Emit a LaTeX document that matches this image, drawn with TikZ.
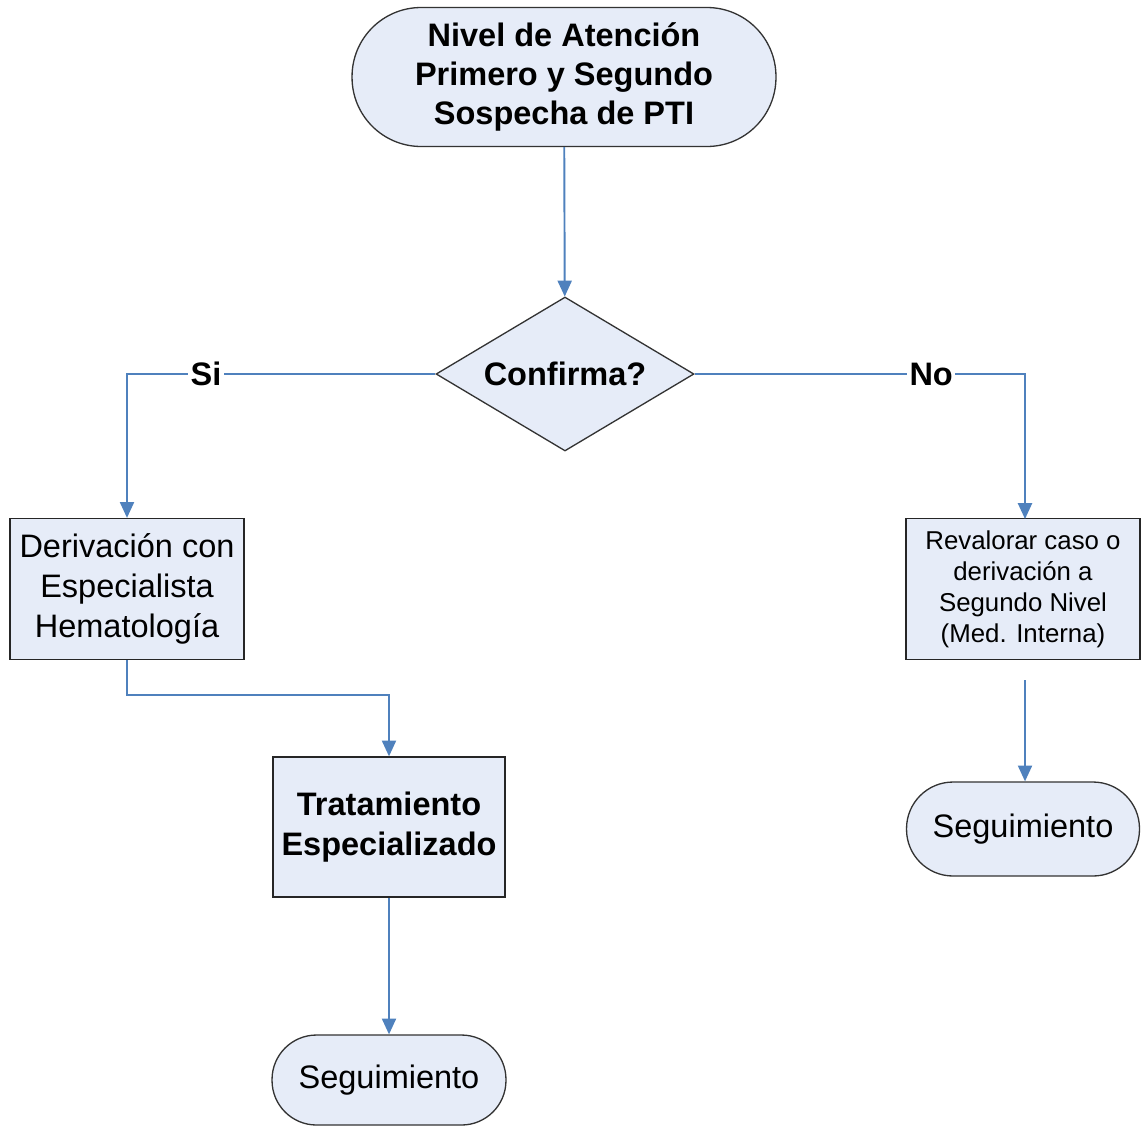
\documentclass[tikz,border=0pt]{standalone}
\usepackage{fontspec}
\setmainfont{Liberation Sans}
\usetikzlibrary{shapes.geometric,arrows.meta}

\definecolor{boxfill}{RGB}{230,236,248}
\definecolor{linkblue}{RGB}{79,129,189}

\tikzset{
  terminal/.style={draw=black!80, fill=boxfill, line width=0.75pt, align=center, inner sep=0pt},
  procbox/.style={draw=black!85, fill=boxfill, line width=0.75pt, align=center, inner sep=0pt},
  decision/.style={diamond, draw=black!80, fill=boxfill, line width=0.75pt, inner sep=0pt,
    minimum width=5.16cm, minimum height=3.08cm, aspect=1.675},
  link/.style={draw=linkblue, line width=1.1pt, -{Triangle[width=8pt,length=9pt]}},
  answer/.style={fill=white, inner sep=1.5pt, font=\fontsize{18.5}{22}\selectfont\bfseries}
}

\begin{document}
\begin{tikzpicture}[x=0.02cm, y=-0.02cm]
  \useasboundingbox (0,0) rectangle (1141,1126);

  % start
  \node[terminal, minimum width=8.48cm, minimum height=2.78cm, rounded corners=1.38cm,
    font=\fontsize{18.5}{22}\selectfont\bfseries] (inicio) at (564,77)
    {Nivel de Atención\\Primero y Segundo\\Sospecha de PTI};

  % question
  \node[decision, font=\fontsize{18.5}{22}\selectfont\bfseries] (conf) at (565,374) {Confirma?};

  % left branch
  \node[procbox, minimum width=4.68cm, minimum height=2.82cm,
    font=\fontsize{18.5}{22.8}\selectfont] (deriv) at (127,589)
    {Derivación con\\Especialista\\Hematología};
  \node[procbox, minimum width=4.64cm, minimum height=2.8cm,
    font=\fontsize{18.5}{22.8}\selectfont\bfseries] (trat) at (389,827)
    {Tratamiento\\Especializado};
  \node[terminal, minimum width=4.68cm, minimum height=1.8cm, rounded corners=0.89cm,
    font=\fontsize{18.5}{22}\selectfont] (seguiA) at (389,1080) {Seguimiento};

  % right branch
  \node[procbox, minimum width=4.68cm, minimum height=2.82cm,
    font=\fontsize{14.7}{17.6}\selectfont] (reval) at (1023,589)
    {Revalorar caso o\\derivación a\\Segundo Nivel\\(Med. Interna)};
  \coordinate (revalout) at (1025,680);
  \node[terminal, minimum width=4.66cm, minimum height=1.88cm, rounded corners=0.93cm,
    font=\fontsize{18.5}{22}\selectfont] (seguiB) at (1023,829) {Seguimiento};

  % connectors
  \draw[link] (inicio) -- (conf);
  \draw[link] (conf.west) -| node[answer, pos=0.372] {Si} (deriv.north);
  \draw[link] (conf.east) -| node[answer, pos=0.358] {No} (1025,519);
  \draw[link] (deriv.south) -- ++(0,35) -| (trat.north);
  \draw[link] (trat) -- (seguiA);
  \draw[link] (revalout) -- (revalout |- seguiB.north);
\end{tikzpicture}
\end{document}
